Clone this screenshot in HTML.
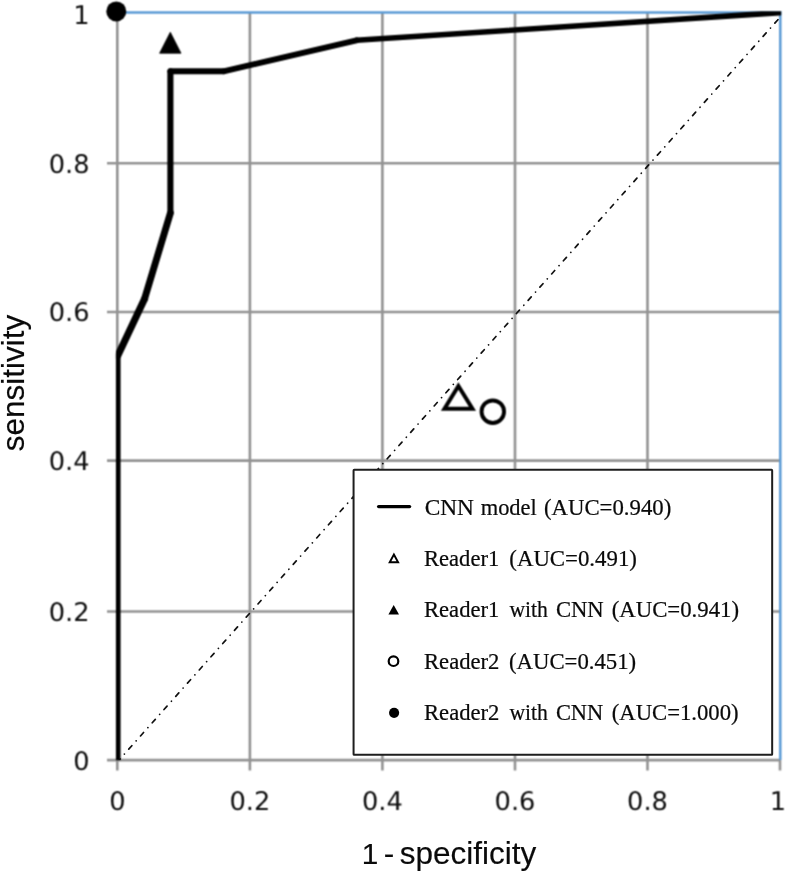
<!DOCTYPE html>
<html>
<head>
<meta charset="utf-8">
<title>ROC curve</title>
<style>
html,body{margin:0;padding:0;background:#fff;}
body{width:786px;height:873px;overflow:hidden;position:relative;}
svg{position:absolute;left:0;top:0;display:block;}
.tick{text-rendering:geometricPrecision;font-family:"DejaVu Sans","Liberation Sans",sans-serif;font-size:25.7px;fill:#0d0d0d;}
.title{font-family:"Liberation Sans",sans-serif;font-size:31.5px;fill:#0a0a0a;stroke:#0a0a0a;stroke-width:0.15px;}
.leg{font-family:"Liberation Serif",serif;font-size:22.8px;fill:#0a0a0a;stroke:#0a0a0a;stroke-width:0.22px;white-space:pre;}
</style>
</head>
<body>
<svg width="786" height="873" viewBox="0 0 786 873">
  <rect x="0" y="0" width="786" height="873" fill="#ffffff"/>
  <defs><filter id="soft" x="0" y="0" width="786" height="873" filterUnits="userSpaceOnUse" color-interpolation-filters="sRGB"><feConvolveMatrix order="3" kernelMatrix="0.0600 0.1250 0.0600 0.1250 0.2601 0.1250 0.0600 0.1250 0.0600" divisor="1" edgeMode="none"/></filter><clipPath id="plotclip"><rect x="117.3" y="12.2" width="662.7" height="747.8"/></clipPath><clipPath id="curveclip"><rect x="115.9" y="11.2" width="665.3" height="749"/></clipPath></defs>
  <g filter="url(#soft)">
  <!-- gridlines -->
  <g stroke="#939393" stroke-width="2.6" fill="none">
    <line x1="107" y1="163.2" x2="780" y2="163.2"/>
    <line x1="107" y1="312" x2="780" y2="312"/>
    <line x1="107" y1="460.6" x2="780" y2="460.6"/>
    <line x1="107" y1="611.5" x2="780" y2="611.5"/>
    <line x1="107" y1="760.1" x2="780" y2="760.1"/>
    <line x1="117.3" y1="12" x2="117.3" y2="770.5"/>
    <line x1="249.9" y1="12" x2="249.9" y2="770.5"/>
    <line x1="382.4" y1="12" x2="382.4" y2="770.5"/>
    <line x1="515" y1="12" x2="515" y2="770.5"/>
    <line x1="647.5" y1="12" x2="647.5" y2="770.5"/>
    <line x1="780" y1="760" x2="780" y2="770.5"/>
  </g>
  <!-- blue border top/right -->
  <path d="M117.3 12.5 H780.3 V760" stroke="#5b9bd5" stroke-width="2.5" fill="none"/>
  <!-- ROC curve -->
  <g stroke="#000" stroke-linecap="round" fill="none" clip-path="url(#curveclip)"><line x1="117.6" y1="762" x2="117.6" y2="356" stroke-width="6.0"/><line x1="117.6" y1="356" x2="144.5" y2="299" stroke-width="7.1"/><line x1="144.5" y1="299" x2="170.4" y2="213" stroke-width="6.9"/><line x1="170.4" y1="213" x2="170.4" y2="71.3" stroke-width="6.1"/><line x1="170.4" y1="71.3" x2="223.5" y2="71.3" stroke-width="5.95"/><line x1="223.5" y1="71.3" x2="356.5" y2="40.3" stroke-width="5.9"/><line x1="356.5" y1="40.3" x2="780" y2="12.6" stroke-width="5.6"/></g>
  <!-- markers -->
  <circle cx="116.3" cy="11.4" r="10" fill="#000"/>
  <polygon points="170.3,32.2 181,53.2 159.6,53.2" fill="#000" stroke="#000" stroke-width="0.8" stroke-linejoin="round"/>
  <polygon points="458.4,386 472.45,408.75 444.45,408.75" fill="none" stroke="#000" stroke-width="4" stroke-linejoin="miter"/>
  <circle cx="492.8" cy="411.7" r="11.25" fill="none" stroke="#000" stroke-width="3.9"/>
  </g>
  <g>
  <!-- diagonal -->
  <line x1="119.1" y1="760" x2="784.6" y2="12.2" stroke="#111" stroke-width="1.7" stroke-linecap="round" stroke-dasharray="4.6 6.53 0.01 6.53" stroke-dashoffset="3.15" clip-path="url(#plotclip)"/>
  <!-- legend -->
  <rect x="353.57" y="469.8" width="418.6" height="285.05" rx="0.6" fill="#fff" stroke="#1e1e1e" stroke-width="2"/>
  <line x1="378.6" y1="506.6" x2="409.6" y2="506.6" stroke="#000" stroke-width="3.3" stroke-linecap="round"/>
  <polygon points="393.9,554.5 398.1,562.2 389.7,562.2" fill="none" stroke="#000" stroke-width="1.9"/>
  <polygon points="393.7,605 399,614.4 388.4,614.4" fill="#000"/>
  <circle cx="393.5" cy="661.2" r="4.8" fill="none" stroke="#000" stroke-width="2.2"/>
  <circle cx="394.1" cy="712.8" r="5.1" fill="#000"/>
  <text class="leg" y="514.6" xml:space="preserve"><tspan x="424.7" textLength="49.3" lengthAdjust="spacingAndGlyphs">CNN</tspan> <tspan x="480.7" textLength="56.1" lengthAdjust="spacingAndGlyphs">model</tspan> <tspan x="543.9" textLength="127.4" lengthAdjust="spacingAndGlyphs">(AUC=0.940)</tspan></text>
  <text class="leg" y="565.7" xml:space="preserve"><tspan x="424.0" textLength="75.2" lengthAdjust="spacingAndGlyphs">Reader1</tspan>  <tspan x="509.3" textLength="127.6" lengthAdjust="spacingAndGlyphs">(AUC=0.491)</tspan></text>
  <text class="leg" y="617.2" xml:space="preserve"><tspan x="424.0" textLength="75.3" lengthAdjust="spacingAndGlyphs">Reader1</tspan>  <tspan x="509.4" textLength="38.5" lengthAdjust="spacingAndGlyphs">with</tspan> <tspan x="555.9" textLength="47.8" lengthAdjust="spacingAndGlyphs">CNN</tspan> <tspan x="611.7" textLength="127.3" lengthAdjust="spacingAndGlyphs">(AUC=0.941)</tspan></text>
  <text class="leg" y="668.8" xml:space="preserve"><tspan x="424.0" textLength="75.4" lengthAdjust="spacingAndGlyphs">Reader2</tspan>  <tspan x="509.0" textLength="127.2" lengthAdjust="spacingAndGlyphs">(AUC=0.451)</tspan></text>
  <text class="leg" y="720.1" xml:space="preserve"><tspan x="424.0" textLength="75.4" lengthAdjust="spacingAndGlyphs">Reader2</tspan>  <tspan x="509.4" textLength="38.5" lengthAdjust="spacingAndGlyphs">with</tspan> <tspan x="555.9" textLength="47.4" lengthAdjust="spacingAndGlyphs">CNN</tspan> <tspan x="611.7" textLength="126.9" lengthAdjust="spacingAndGlyphs">(AUC=1.000)</tspan></text>
  </g>
  <g filter="url(#soft)">
  <!-- y tick labels -->
  <g class="tick" text-anchor="end">
    <text x="89.6" y="23.6">1</text>
    <text x="89.6" y="172.6">0.8</text>
    <text x="89.6" y="321.4">0.6</text>
    <text x="89.6" y="470.1">0.4</text>
    <text x="89.6" y="620.9">0.2</text>
    <text x="89.6" y="769.5">0</text>
  </g>
  <!-- x tick labels -->
  <g class="tick" text-anchor="middle">
    <text x="117.3" y="810">0</text>
    <text x="249.9" y="810">0.2</text>
    <text x="382.4" y="810">0.4</text>
    <text x="515" y="810">0.6</text>
    <text x="647.5" y="810">0.8</text>
    <text x="778" y="810">1</text>
  </g>
  </g>
  <g>
  <!-- axis titles -->
  <text class="title" y="864.1"><tspan x="361.8" font-size="29.8">1</tspan> <tspan x="383.7">-</tspan> <tspan x="399.8">specificity</tspan></text>
  <text class="title" transform="translate(23.8,383) rotate(-90)" text-anchor="middle">sensitivity</text>
  </g>
</svg>
</body>
</html>
